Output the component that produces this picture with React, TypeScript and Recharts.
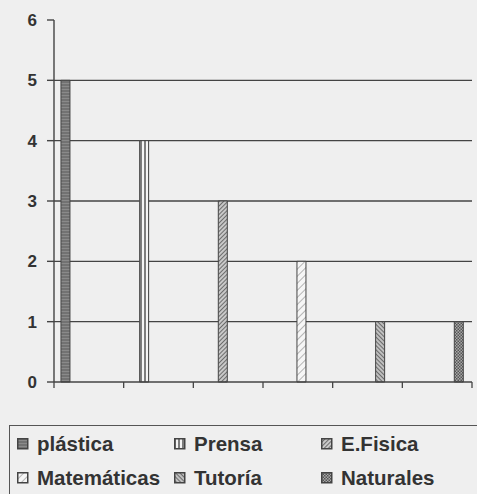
import { BarChart, Bar, XAxis, YAxis, CartesianGrid } from 'recharts';

// six categories (no labels on the axis), one subject per category
const categories = ['1', '2', '3', '4', '5', '6'];
const seriesNames = ['plástica', 'Prensa', 'E.Fisica', 'Matemáticas', 'Tutoría', 'Naturales'];
const seriesKeys = ['plastica', 'prensa', 'efisica', 'matematicas', 'tutoria', 'naturales'];
const seriesValues = [5, 4, 3, 2, 1, 1];
const yTicks = [0, 1, 2, 3, 4, 5, 6];
const gridValues = [1, 2, 3, 4, 5];

const patternIds = ['pPlastica', 'pPrensa', 'pEFisica', 'pMatematicas', 'pTutoria', 'pNaturales'];

// each category carries only its own subject's value
const data = categories.map((c, i) => {
  const row: Record<string, string | number | null> = { cat: c };
  seriesKeys.forEach((k, j) => {
    row[k] = i === j ? seriesValues[j] : null;
  });
  return row;
});

const INK = '#444';
const TEXT = '#333';
const FONT = '"Liberation Sans", Arial, sans-serif';

function Patterns() {
  return (
    <defs>
      <pattern id="pPlastica" width="3" height="3" patternUnits="userSpaceOnUse">
        <rect width="3" height="3" fill="#8a8a8a" />
        <line x1="0" y1="1" x2="3" y2="1" stroke="#5a5a5a" strokeWidth="1" />
      </pattern>
      <pattern id="pPrensa" width="4" height="4" patternUnits="userSpaceOnUse">
        <rect width="4" height="4" fill="#f4f4f4" />
        <line x1="1" y1="0" x2="1" y2="4" stroke="#555" strokeWidth="1.5" />
      </pattern>
      <pattern id="pEFisica" width="3" height="3" patternUnits="userSpaceOnUse" patternTransform="rotate(45)">
        <rect width="3" height="3" fill="#c8c8c8" />
        <line x1="0" y1="0" x2="0" y2="3" stroke="#555" strokeWidth="1.6" />
      </pattern>
      <pattern id="pMatematicas" width="5" height="5" patternUnits="userSpaceOnUse" patternTransform="rotate(45)">
        <rect width="5" height="5" fill="#f6f6f6" />
        <line x1="0" y1="0" x2="0" y2="5" stroke="#888" strokeWidth="1.2" />
      </pattern>
      <pattern id="pTutoria" width="3" height="3" patternUnits="userSpaceOnUse" patternTransform="rotate(-45)">
        <rect width="3" height="3" fill="#c0c0c0" />
        <line x1="0" y1="0" x2="0" y2="3" stroke="#555" strokeWidth="1.6" />
      </pattern>
      <pattern id="pNaturales" width="3" height="3" patternUnits="userSpaceOnUse">
        <rect width="3" height="3" fill="#a8a8a8" />
        <rect width="1.5" height="1.5" fill="#555" />
        <rect x="1.5" y="1.5" width="1.5" height="1.5" fill="#555" />
      </pattern>
    </defs>
  );
}

// tick marks sit on the category boundaries, not the centres
function BoundaryTick(props: any) {
  const { x, y, payload, index, visibleTicksCount } = props;
  const half = payload && payload.offset ? payload.offset : 0;
  const isLast = index === visibleTicksCount - 1;
  return (
    <g>
      <line x1={x - half} y1={y} x2={x - half} y2={y + 6} stroke={INK} strokeWidth={1.3} />
      {isLast && <line x1={x + half} y1={y} x2={x + half} y2={y + 6} stroke={INK} strokeWidth={1.3} />}
    </g>
  );
}

function LegendBox() {
  const cols = [16, 173, 320];
  const rows = [431, 465];
  const boxLeft = 9;
  const boxTop = 425;
  return (
    <div
      style={{
        position: 'absolute',
        left: boxLeft,
        top: boxTop,
        width: 480,
        height: 90,
        border: '1.5px solid #555',
        boxSizing: 'border-box',
      }}
    >
      {seriesNames.map((name, i) => (
        <div
          key={name}
          style={{
            position: 'absolute',
            left: cols[i % 3] - boxLeft,
            top: rows[Math.floor(i / 3)] - boxTop,
            display: 'flex',
            alignItems: 'center',
            fontFamily: FONT,
            fontSize: 20.5,
            fontWeight: 'bold',
            color: TEXT,
            whiteSpace: 'nowrap',
            lineHeight: '24px',
          }}
        >
          <svg width="12" height="12" style={{ marginRight: 8 }}>
            <rect x="0.75" y="0.75" width="10" height="10" fill={`url(#${patternIds[i]})`} stroke={INK} strokeWidth="1.5" />
          </svg>
          {name}
        </div>
      ))}
    </div>
  );
}

export default function App() {
  return (
    <div
      style={{
        position: 'absolute',
        left: 0,
        top: 0,
        width: 477,
        height: 494,
        background: '#efefef',
        overflow: 'hidden',
      }}
    >
      <BarChart
        width={477}
        height={400}
        data={data}
        margin={{ top: 20, right: 5, left: 0, bottom: 0 }}
        barCategoryGap="10%"
        barGap={0}
      >
        <Patterns />
        <CartesianGrid vertical={false} horizontalValues={gridValues} stroke={INK} strokeWidth={1.4} />
        <XAxis
          dataKey="cat"
          height={18}
          axisLine={{ stroke: INK, strokeWidth: 1.4 }}
          tickLine={false}
          tickSize={0}
          tickMargin={0}
          tick={<BoundaryTick />}
          interval={0}
        />
        <YAxis
          domain={[0, 6]}
          ticks={yTicks}
          width={54}
          axisLine={{ stroke: INK, strokeWidth: 1.4 }}
          tickLine={{ stroke: INK, strokeWidth: 1.4 }}
          tickSize={7}
          tickMargin={10}
          tick={{ fill: TEXT, fontSize: 17, fontWeight: 'bold', fontFamily: FONT }}
          interval={0}
        />
        {seriesKeys.map((k, i) => (
          <Bar
            key={k}
            dataKey={k}
            name={seriesNames[i]}
            fill={`url(#${patternIds[i]})`}
            stroke={INK}
            strokeWidth={1}
            isAnimationActive={false}
          />
        ))}
      </BarChart>
      <LegendBox />
    </div>
  );
}
